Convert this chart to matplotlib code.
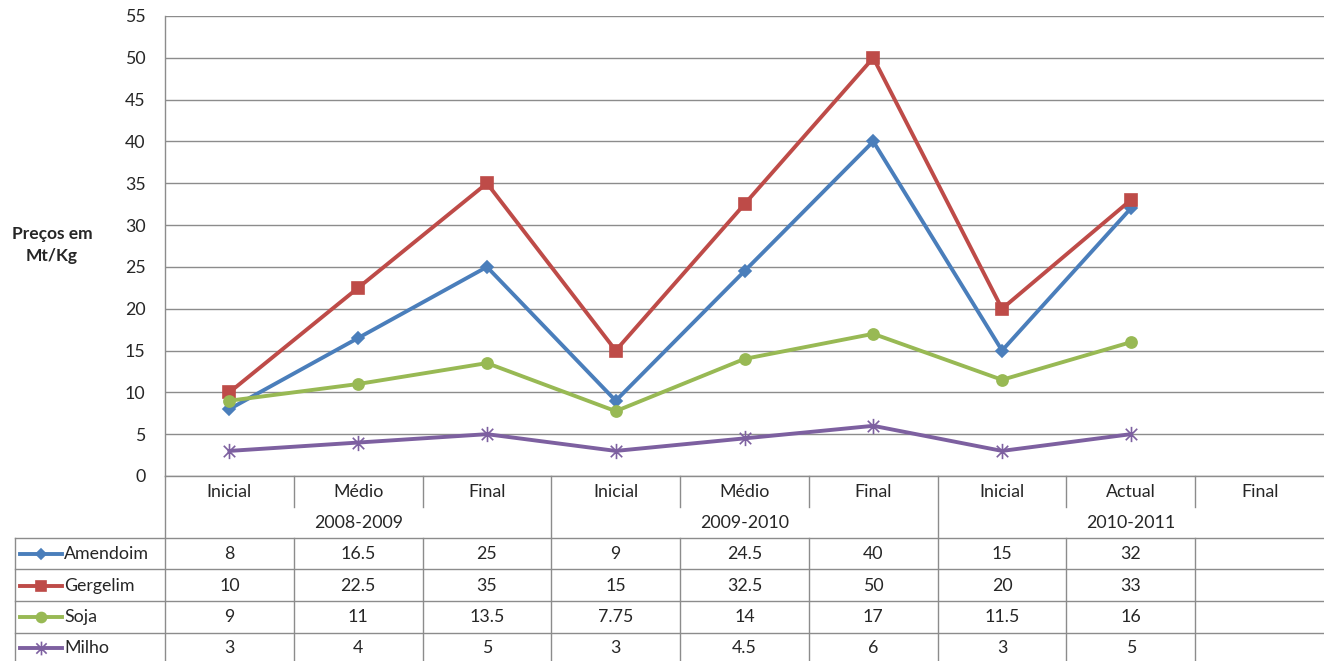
import numpy as np
import matplotlib.pyplot as plt
from matplotlib.lines import Line2D
from matplotlib.path import Path

plt.rcParams['font.family'] = ['Lato', 'DejaVu Sans']

periods = ['Inicial', 'Médio', 'Final', 'Inicial', 'Médio', 'Final', 'Inicial', 'Actual', 'Final']
seasons = ['2008-2009', '2009-2010', '2010-2011']
names = ['Amendoim', 'Gergelim', 'Soja', 'Milho']
amendoim = [8, 16.5, 25, 9, 24.5, 40, 15, 32]
gergelim = [10, 22.5, 35, 15, 32.5, 50, 20, 33]
soja = [9, 11, 13.5, 7.75, 14, 17, 11.5, 16]
milho = [3, 4, 5, 3, 4.5, 6, 3, 5]
values = [amendoim, gergelim, soja, milho]

colors = ['#4A7EBB', '#BE4B48', '#98B954', '#7D60A0']
star = Path([(0, -1), (0, 1), (-0.75, -0.75), (0.75, 0.75), (-0.75, 0.75), (0.75, -0.75)],
            [Path.MOVETO, Path.LINETO, Path.MOVETO, Path.LINETO, Path.MOVETO, Path.LINETO])
markers = ['D', 's', 'o', star]
msizes = [6, 8, 8, 11]

W, H = 1324, 661
grid_c = '#8C8C8C'
txt_c = '#262626'
fs = 12.8

fig = plt.figure(figsize=(W / 100, H / 100), dpi=100)
ax = fig.add_axes([165 / W, (H - 476) / H, (W - 165) / W, (476 - 16) / H])

x = np.arange(len(periods))
for name, vals, c, m, ms in zip(names, values, colors, markers, msizes):
    xs = x[:len(vals)] + 0.5
    ax.plot(xs, vals, color=c, lw=2.8, marker=m, markersize=ms,
            markerfacecolor=c, markeredgecolor=c, markeredgewidth=1.2, zorder=3)

ax.set_xlim(0, len(periods))
ax.set_ylim(0, 55)
ax.set_yticks(np.arange(0, 56, 5))
ax.set_xticks([])
ax.grid(axis='y', color=grid_c, lw=1)
ax.set_axisbelow(True)
for s in ['top', 'right']:
    ax.spines[s].set_visible(False)
for s in ['left', 'bottom']:
    ax.spines[s].set_color(grid_c)
    ax.spines[s].set_linewidth(1)
ax.tick_params(axis='y', length=0, pad=14, labelsize=fs, labelcolor=txt_c)

fig.text(52 / W, 1 - 245 / H, 'Preços em\nMt/Kg', ha='center', va='center',
         fontsize=12.5, fontweight='bold', color=txt_c, linespacing=1.5)

# data table under the chart
tax = fig.add_axes([165 / W, 0, (W - 165) / W, (H - 476) / H])
tax.set_xlim(0, len(periods))
tax.set_ylim(H, 476)
tax.axis('off')
unit = (W - 165) / len(periods)
left = -150 / unit

row_lines = [538, 569, 601, 633]
row_mid = [554, 586, 617, 648]

def hline(y, x0, x1):
    tax.add_line(Line2D([x0, x1], [y, y], color=grid_c, lw=1, clip_on=False))

def vline(xv, y0, y1):
    tax.add_line(Line2D([xv, xv], [y0, y1], color=grid_c, lw=1, clip_on=False))

for y in row_lines:
    hline(y, left, len(periods))
vline(0, 476, H)
vline(left, 538, H)
for i in range(1, len(periods)):
    if i % 3 == 0:
        vline(i, 476, H)
    else:
        vline(i, 476, 507)
        vline(i, 538, H)

for i, p in enumerate(periods):
    tax.text(i + 0.5, 492, p, ha='center', va='center', fontsize=fs, color=txt_c)
for j, s in enumerate(seasons):
    tax.text(3 * j + 1.5, 523, s, ha='center', va='center', fontsize=fs, color=txt_c)

for r, (name, vals, c, m, ms) in enumerate(zip(names, values, colors, markers, msizes)):
    y = row_mid[r]
    x0 = left + 5 / unit
    x1 = left + 47 / unit
    tax.add_line(Line2D([x0, x1], [y, y], color=c, lw=2.8, clip_on=False))
    tax.add_line(Line2D([(x0 + x1) / 2], [y], color=c, marker=m, markersize=ms * 0.9,
                        markerfacecolor=c, markeredgecolor=c, markeredgewidth=1.2,
                        clip_on=False))
    tax.text(left + 49 / unit, y, name, ha='left', va='center', fontsize=fs, color=txt_c)
    for i, v in enumerate(vals):
        tax.text(i + 0.5, y, f'{v:g}', ha='center', va='center', fontsize=fs, color=txt_c)

fig.savefig('out.png', dpi=100)
